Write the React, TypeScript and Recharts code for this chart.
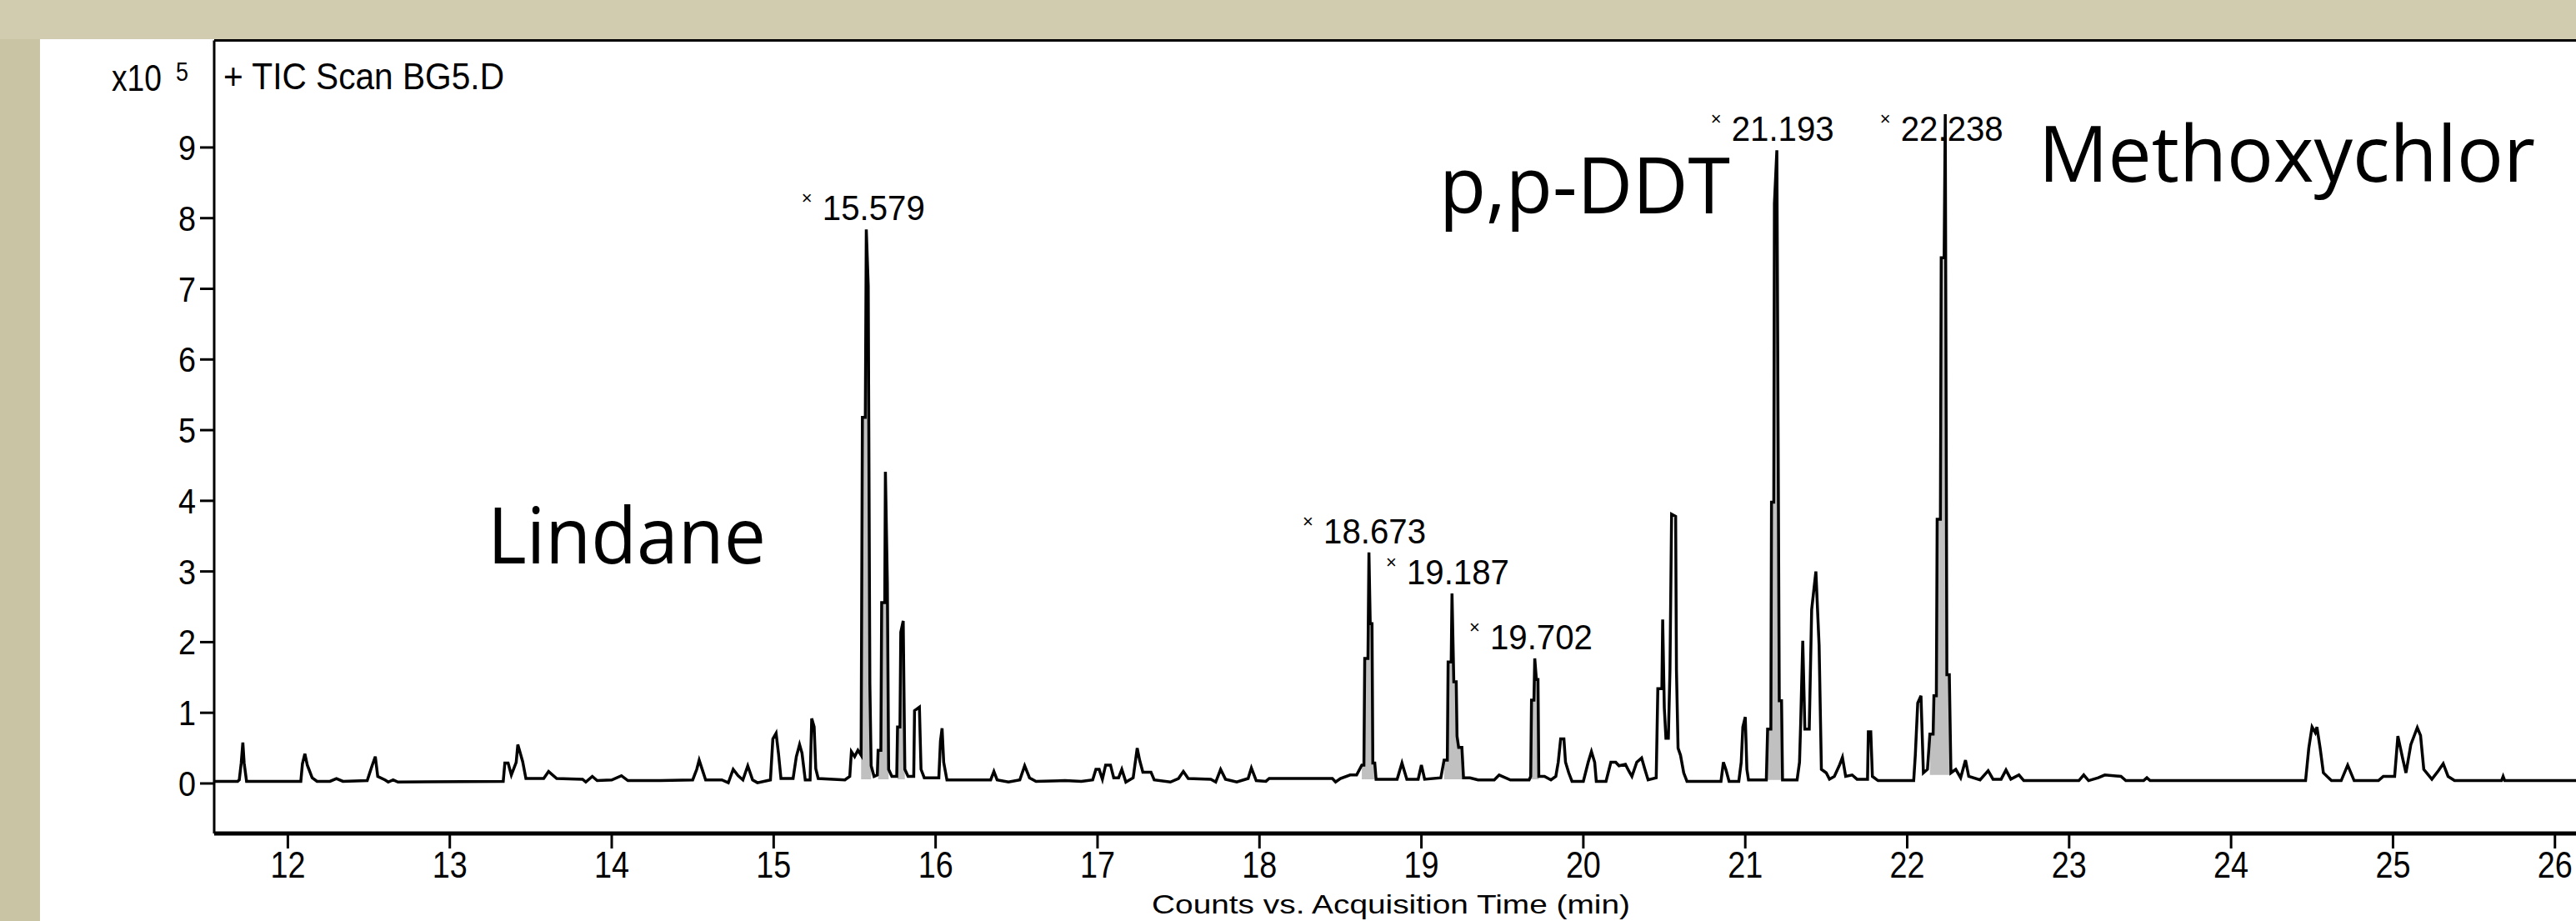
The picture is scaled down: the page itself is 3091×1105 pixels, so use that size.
import { ComposedChart, Line, Area, XAxis, YAxis, ReferenceDot, ReferenceLine } from "recharts";

// axis ranges (minutes / counts x10^5)
const X_MIN = 11.545;
const X_MAX = 26.13;
const Y_MIN = -0.708;
const Y_MAX = 10.515;

const xTicks = [12, 13, 14, 15, 16, 17, 18, 19, 20, 21, 22, 23, 24, 25, 26];
const yTicks = [0, 1, 2, 3, 4, 5, 6, 7, 8, 9];

// TIC trace: [time (min), counts x10^5]
const traceEarly: [number, number][] = [
  [11.545, 0.03], [11.69, 0.03], [11.7, 0.05], [11.712, 0.29], [11.722, 0.58], [11.73, 0.29], [11.745, 0.03],
  [12.08, 0.03], [12.09, 0.28], [12.105, 0.42], [12.12, 0.26], [12.15, 0.08], [12.18, 0.03], [12.26, 0.03],
  [12.3, 0.07], [12.34, 0.03], [12.49, 0.04], [12.52, 0.25], [12.54, 0.38], [12.555, 0.1], [12.6, 0.05],
  [12.62, 0.02], [12.65, 0.05], [12.68, 0.02], [13.33, 0.03], [13.34, 0.29], [13.36, 0.29], [13.38, 0.12],
  [13.41, 0.3], [13.42, 0.55], [13.45, 0.31], [13.47, 0.07], [13.58, 0.07], [13.61, 0.17], [13.66, 0.07],
  [13.82, 0.06], [13.84, 0.02], [13.88, 0.1], [13.91, 0.04], [14.0, 0.05], [14.06, 0.11], [14.1, 0.04],
  [14.3, 0.04], [14.5, 0.05], [14.525, 0.2], [14.54, 0.33], [14.56, 0.19], [14.58, 0.05], [14.68, 0.05],
  [14.72, 0.01], [14.75, 0.2], [14.78, 0.11], [14.81, 0.05], [14.84, 0.25], [14.87, 0.05], [14.9, 0.01],
  [14.98, 0.05], [14.995, 0.63], [15.015, 0.71], [15.03, 0.42], [15.045, 0.07], [15.12, 0.07], [15.14, 0.38],
  [15.16, 0.55], [15.175, 0.43], [15.195, 0.05], [15.225, 0.05], [15.235, 0.92], [15.25, 0.8], [15.26, 0.21],
  [15.275, 0.07], [15.44, 0.05],
];

const traceLindane: [number, number][] = [
  [15.47, 0.1], [15.48, 0.45], [15.5, 0.38], [15.52, 0.47], [15.54, 0.4], [15.548, 5.18], [15.566, 5.18],
  [15.572, 7.84], [15.584, 7.04], [15.594, 1.41], [15.602, 0.25], [15.62, 0.1], [15.64, 0.12], [15.645, 0.47],
  [15.662, 0.47], [15.667, 2.56], [15.686, 2.56], [15.69, 4.41], [15.702, 2.84], [15.71, 0.2], [15.73, 0.1],
  [15.76, 0.1], [15.765, 0.8], [15.78, 0.8], [15.785, 2.14], [15.8, 2.3], [15.81, 0.2], [15.83, 0.1],
  [15.865, 0.1], [15.87, 1.03], [15.9, 1.08], [15.91, 0.2], [15.93, 0.08], [16.02, 0.08], [16.03, 0.6],
  [16.04, 0.78], [16.05, 0.3], [16.07, 0.05],
];

const traceMiddle: [number, number][] = [
  [16.3, 0.05], [16.34, 0.05], [16.36, 0.17], [16.38, 0.05], [16.45, 0.02], [16.52, 0.05], [16.55, 0.25],
  [16.58, 0.08], [16.62, 0.03], [16.8, 0.04], [16.9, 0.03], [16.97, 0.05], [16.99, 0.2], [17.01, 0.2],
  [17.03, 0.06], [17.05, 0.26], [17.08, 0.26], [17.1, 0.08], [17.13, 0.08], [17.15, 0.2], [17.175, 0.02],
  [17.22, 0.08], [17.245, 0.5], [17.26, 0.33], [17.28, 0.16], [17.33, 0.16], [17.35, 0.05], [17.45, 0.02],
  [17.5, 0.07], [17.53, 0.17], [17.56, 0.07], [17.7, 0.06], [17.73, 0.02], [17.76, 0.2], [17.79, 0.06],
  [17.86, 0.02], [17.93, 0.07], [17.95, 0.22], [17.98, 0.04], [18.04, 0.03], [18.06, 0.07], [18.45, 0.07],
  [18.47, 0.02], [18.5, 0.07], [18.56, 0.12], [18.6, 0.12], [18.632, 0.26], [18.645, 0.26], [18.65, 1.77],
  [18.67, 1.77], [18.676, 3.27], [18.684, 2.26], [18.695, 2.26], [18.7, 0.29], [18.712, 0.29], [18.72, 0.06],
  [18.85, 0.06], [18.88, 0.29], [18.91, 0.06], [18.98, 0.06], [19.0, 0.26], [19.02, 0.06], [19.12, 0.08],
  [19.14, 0.33], [19.16, 0.33], [19.165, 1.72], [19.184, 1.72], [19.189, 2.69], [19.2, 1.44], [19.215, 1.44],
  [19.22, 0.67], [19.23, 0.51], [19.25, 0.51], [19.26, 0.08], [19.3, 0.08], [19.35, 0.05], [19.45, 0.05],
  [19.48, 0.12], [19.55, 0.05], [19.665, 0.05], [19.675, 0.1], [19.68, 1.18], [19.695, 1.18], [19.7, 1.77],
  [19.71, 1.47], [19.72, 1.47], [19.725, 0.1], [19.76, 0.1],
];

const traceDdt: [number, number][] = [
  [19.8, 0.05], [19.83, 0.1], [19.845, 0.3], [19.86, 0.63], [19.88, 0.63], [19.89, 0.3], [19.91, 0.15],
  [19.93, 0.03], [20.0, 0.03], [20.03, 0.3], [20.05, 0.45], [20.07, 0.3], [20.08, 0.03], [20.14, 0.03],
  [20.17, 0.3], [20.2, 0.3], [20.22, 0.25], [20.26, 0.27], [20.28, 0.18], [20.3, 0.1], [20.33, 0.3],
  [20.36, 0.36], [20.38, 0.2], [20.4, 0.05], [20.45, 0.08], [20.46, 1.34], [20.485, 1.34], [20.49, 2.32],
  [20.5, 1.07], [20.51, 0.64], [20.525, 0.64], [20.535, 1.61], [20.545, 3.81], [20.57, 3.78], [20.575, 1.61],
  [20.585, 0.5], [20.6, 0.4], [20.62, 0.15], [20.64, 0.03], [20.85, 0.03], [20.865, 0.3], [20.88, 0.2],
  [20.9, 0.03], [20.96, 0.03], [20.975, 0.3], [20.985, 0.8], [21.0, 0.94], [21.01, 0.2], [21.02, 0.05],
  [21.13, 0.05], [21.138, 0.77], [21.158, 0.77], [21.162, 3.98], [21.176, 3.98], [21.18, 8.21], [21.195, 8.96],
  [21.21, 1.17], [21.224, 1.17], [21.23, 0.05], [21.32, 0.05], [21.335, 0.3], [21.342, 0.84], [21.355, 2.02],
  [21.368, 0.77], [21.395, 0.77], [21.41, 2.46], [21.436, 3.0], [21.456, 1.95], [21.47, 0.2], [21.5, 0.15],
  [21.52, 0.06], [21.55, 0.1], [21.58, 0.25], [21.6, 0.37], [21.62, 0.1], [21.66, 0.12], [21.69, 0.06],
  [21.755, 0.06], [21.76, 0.73], [21.775, 0.73], [21.785, 0.1], [21.82, 0.04], [22.04, 0.04], [22.05, 0.4],
  [22.065, 1.14], [22.085, 1.24], [22.1, 0.15], [22.125, 0.2], [22.14, 0.7], [22.16, 0.7], [22.165, 1.24],
  [22.18, 1.24], [22.185, 3.74], [22.205, 3.74], [22.21, 7.44], [22.228, 7.44], [22.235, 9.47], [22.245, 1.54],
  [22.26, 1.54], [22.27, 0.15], [22.3, 0.2], [22.33, 0.08], [22.36, 0.33], [22.38, 0.1],
];

const traceLate: [number, number][] = [
  [22.45, 0.05], [22.5, 0.18], [22.53, 0.06], [22.58, 0.06], [22.61, 0.19], [22.64, 0.06], [22.69, 0.12],
  [22.72, 0.04], [23.06, 0.04], [23.09, 0.12], [23.12, 0.04], [23.18, 0.08], [23.22, 0.12], [23.32, 0.1],
  [23.35, 0.04], [23.46, 0.04], [23.48, 0.08], [23.5, 0.04], [24.46, 0.04], [24.48, 0.5], [24.5, 0.8],
  [24.52, 0.72], [24.53, 0.8], [24.55, 0.5], [24.57, 0.15], [24.62, 0.04], [24.68, 0.04], [24.72, 0.26],
  [24.76, 0.04], [24.91, 0.04], [24.94, 0.1], [25.01, 0.1], [25.03, 0.67], [25.06, 0.35], [25.08, 0.15],
  [25.11, 0.55], [25.15, 0.79], [25.17, 0.68], [25.19, 0.2], [25.24, 0.06], [25.28, 0.18], [25.31, 0.28],
  [25.34, 0.1], [25.38, 0.04], [25.67, 0.04], [25.68, 0.1], [25.69, 0.04], [26.13, 0.04],
];

// integrated (shaded) windows: [start, end, baseline]
const integrated: [number, number, number][] = [
  [15.54, 15.602, 0.06], [15.645, 15.71, 0.06], [15.765, 15.81, 0.06],
  [18.632, 18.712, 0.06], [19.14, 19.26, 0.06], [19.675, 19.725, 0.06],
  [21.138, 21.224, 0.05], [22.14, 22.27, 0.12],
];

const peakTimes = [15.579, 18.673, 19.187, 19.702, 21.193, 22.238];
const peakLabelLevels = [7.84, 3.27, 2.69, 1.77, 8.96, 8.96];

const chartData = [...traceEarly, ...traceLindane, ...traceMiddle, ...traceDdt, ...traceLate].map(([t, v]) => {
  const w = integrated.find(([a, b]) => t >= a && t <= b);
  return { t, v, f: w ? [w[2], v] : null };
});

const mono = "'Liberation Sans', Arial, sans-serif";

const XTick = ({ x, y, payload }: any) => (
  <text x={x} y={y + 33} textAnchor="middle" fontFamily={mono} fontSize={44} fill="#000"
    textLength={payload.value >= 10 ? 42 : 21} lengthAdjust="spacingAndGlyphs">
    {payload.value}
  </text>
);

const YTick = ({ x, y, payload }: any) => (
  <text x={x} y={y + 15} textAnchor="end" fontFamily={mono} fontSize={42} fill="#000"
    textLength={21} lengthAdjust="spacingAndGlyphs">
    {payload.value}
  </text>
);

const PeakLabel = (rt: number) => (p: any) => (
  <g>
    <text x={p.cx - 79} y={p.cy - 30} fontFamily={mono} fontSize={22} fill="#000">×</text>
    <text x={p.cx - 54} y={p.cy - 11} fontFamily={mono} fontSize={42} fill="#000"
      textLength={123} lengthAdjust="spacingAndGlyphs">
      {rt.toFixed(3)}
    </text>
  </g>
);

export default function App() {
  return (
    <div style={{ position: "absolute", left: 0, top: 0, width: 3091, height: 1105, background: "#d1ccb0", overflow: "hidden" }}>
      <div style={{ position: "absolute", left: 0, top: 47, width: 48, height: 1058, background: "#c9c4a4" }} />
      <div style={{ position: "absolute", left: 48, top: 47, right: 0, bottom: 0, background: "#fff" }} />
      <div style={{ position: "absolute", left: 0, top: 0 }}>
        <ComposedChart width={3091} height={1105} data={chartData}
          margin={{ top: 48.5, right: 0, bottom: 0, left: 157 }}>
          <XAxis dataKey="t" type="number" domain={[X_MIN, X_MAX]} ticks={xTicks} allowDataOverflow
            height={105} axisLine={{ stroke: "#000", strokeWidth: 5 }}
            tickLine={{ stroke: "#000", strokeWidth: 3 }} tickSize={18} tickMargin={2} tick={<XTick />} />
          <YAxis type="number" domain={[Y_MIN, Y_MAX]} ticks={yTicks} allowDataOverflow width={100}
            axisLine={{ stroke: "#000", strokeWidth: 3 }}
            tickLine={{ stroke: "#000", strokeWidth: 3 }} tickSize={17} tickMargin={5} tick={<YTick />} />
          <ReferenceLine y={Y_MAX} stroke="#000" strokeWidth={3} />
          <Area type="linear" dataKey="f" fill="#c0c0c0" fillOpacity={1} stroke="none"
            isAnimationActive={false} connectNulls={false} />
          <Line type="linear" dataKey="v" stroke="#000" strokeWidth={3.5} dot={false}
            isAnimationActive={false} />
          {peakTimes.map((rt, i) => (
            <ReferenceDot key={rt} x={rt} y={peakLabelLevels[i]} r={0} shape={PeakLabel(rt)} />
          ))}
        </ComposedChart>
      </div>
      <svg width={3091} height={1105} style={{ position: "absolute", left: 0, top: 0, pointerEvents: "none" }}>
        <text x={134} y={109} fontFamily={mono} fontSize={44} textLength={60} lengthAdjust="spacingAndGlyphs">x10</text>
        <text x={211} y={97} fontFamily={mono} fontSize={32} textLength={15} lengthAdjust="spacingAndGlyphs">5</text>
        <text x={268} y={107} fontFamily={mono} fontSize={44} textLength={337} lengthAdjust="spacingAndGlyphs">+ TIC Scan BG5.D</text>
        <text x={1382} y={1096} fontFamily={mono} fontSize={32} textLength={574} lengthAdjust="spacingAndGlyphs">Counts vs. Acquisition Time (min)</text>
        <g fontFamily="'Open Sans', sans-serif" fontSize={93} fill="#000">
          <text x={585} y={676} textLength={334} lengthAdjust="spacingAndGlyphs">Lindane</text>
          <text x={1727} y={256} textLength={349} lengthAdjust="spacingAndGlyphs">p,p-DDT</text>
          <text x={2446} y={218} textLength={596} lengthAdjust="spacingAndGlyphs">Methoxychlor</text>
        </g>
      </svg>
    </div>
  );
}
